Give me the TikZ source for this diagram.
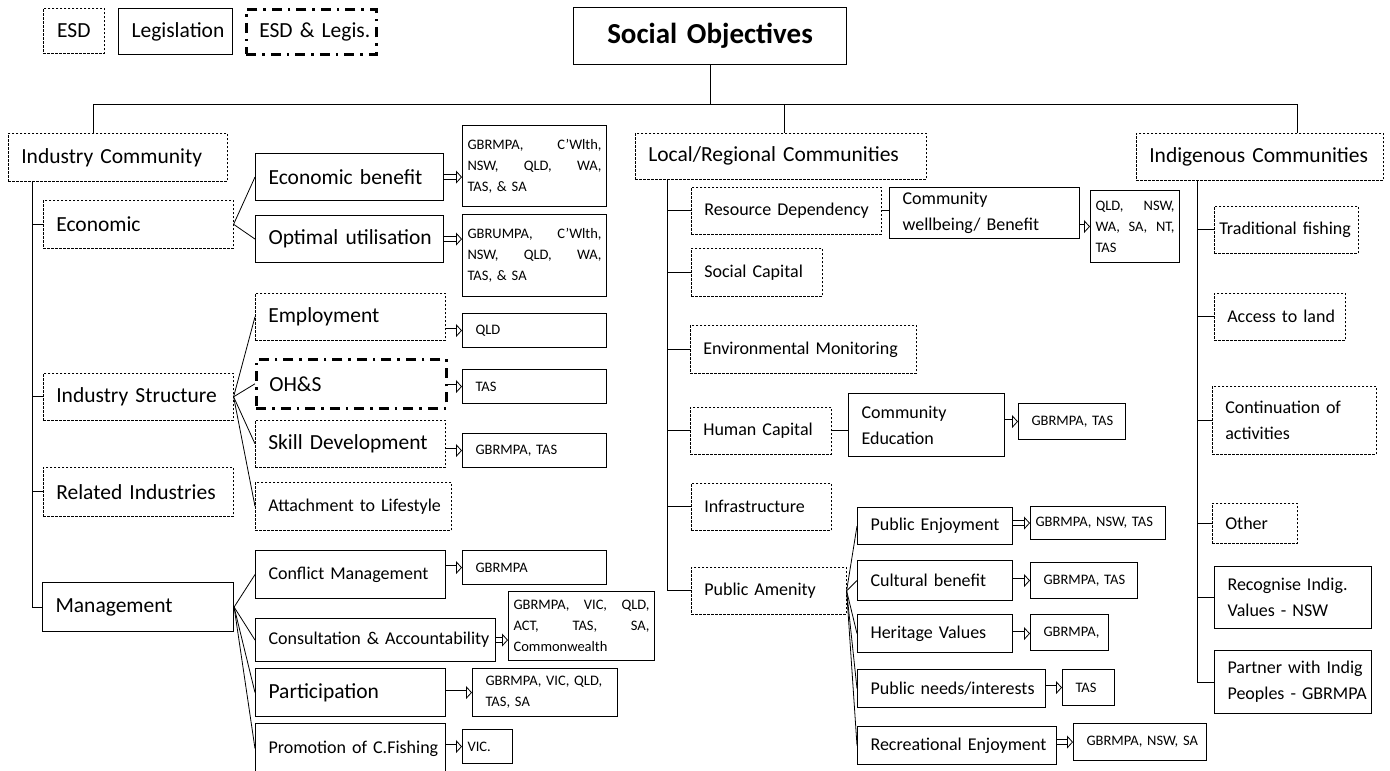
\documentclass[tikz,border=0pt]{standalone}
\usepackage{fontspec}
\setmainfont{Carlito}
\usetikzlibrary{arrows.meta}
\hyphenpenalty=10000
\exhyphenpenalty=10000
\tikzset{sz/.style 2 args = {inner xsep=13pt, text width={#1pt-26pt}, minimum height=#2pt}}
\tikzset{szt/.style 2 args = {inner xsep=5pt, text width={#1pt-10pt}, minimum height=#2pt}}
\begin{document}
\begin{tikzpicture}[x=1pt,y=-1pt]
		\tikzset{esd/.style = {draw, line width=0.6pt, dash pattern=on 2.5pt off 1.5pt, anchor=north west, align=left, inner ysep=0pt}}
		\tikzset{legis/.style = {draw, line width=1.1pt, anchor=north west, align=left, inner ysep=0pt}}
		\tikzset{both/.style = {draw, line width=2.6pt, dash pattern=on 10pt off 6pt on 2.5pt off 6pt, anchor=north west, align=left, inner ysep=0pt}}
		\tikzset{big/.style = {font=\fontsize{21.5}{26}\selectfont}}
		\tikzset{mid/.style = {font=\fontsize{18}{26}\selectfont}}
		\tikzset{small/.style = {font=\fontsize{14.5}{21}\selectfont}}
		\tikzset{edge/.style = {line width=0.8pt}}
		\tikzset{imp/.style = {double, double distance=4pt, line width=0.8pt, -{Triangle[open, length=6pt, width=13pt, line width=0.8pt]}}}
		
		\useasboundingbox (0,0) rectangle (1390,771);
		
		% legend and title
		\node[esd, big, sz={61}{45}, align=center]   (1) at (43,8)  {ESD};
		\node[legis, big, sz={114}{46}, align=center] (2) at (118,8) {Legislation};
		\node[both, big, sz={130}{45}, align=center]  (3) at (245,8) {ESD~\&~Legis.};
		\node[legis, sz={273}{57}, align=center, font=\fontsize{29}{34}\selectfont\bfseries] (4) at (573,7) {Social~Objectives};
		
		% industry community
		\node[esd, big, sz={219}{48}]   (10) at (8,133)   {Industry~Community};
		\node[esd, big, sz={190}{48}]   (11) at (43,200)  {Economic};
		\node[esd, big, sz={190}{47}]   (12) at (43,373)  {Industry~Structure};
		\node[esd, big, sz={190}{49}]   (13) at (43,467)  {Related~Industries};
		\node[legis, big, sz={191}{49}] (14) at (42,582)  {Management};
		
		\node[legis, big, sz={188}{47}] (15) at (255,153) {Economic~benefit};
		\node[legis, big, sz={188}{47}] (16) at (255,215) {Optimal~utilisation};
		\node[legis, small, szt={144}{81}] (17) at (462,125) {GBRMPA,\hfill C'Wlth,\\NSW,\hfill QLD,\hfill WA,\\TAS, \& SA};
		\node[legis, small, szt={144}{82}] (18) at (462,214) {GBRUMPA,\hfill C'Wlth,\\NSW,\hfill QLD,\hfill WA,\\TAS, \& SA};
		
		\node[esd, big, sz={190}{47}]   (19) at (255,293) {Employment};
		\node[both, big, sz={190}{49}]  (20) at (255,358) {OH\&S};
		\node[esd, big, sz={190}{47}]   (21) at (255,420) {Skill~Development};
		\node[esd, mid, sz={196}{48}]   (22) at (255,482) {Attachment~to~Lifestyle};
		\node[legis, small, sz={144}{34}] (23) at (462,313) {QLD};
		\node[legis, small, sz={144}{34}] (24) at (462,369) {TAS};
		\node[legis, small, sz={144}{34}] (25) at (462,433) {GBRMPA,~TAS};
		
		\node[legis, mid, sz={190}{48}] (26) at (255,550) {Conflict~Management};
		\node[legis, mid, sz={240}{43}] (27) at (255,618) {Consultation~\&~Accountability};
		\node[legis, big, sz={190}{48}] (28) at (255,668) {Participation};
		\node[legis, mid, sz={190}{50}] (29) at (255,723) {Promotion~of~C.Fishing};
		\node[legis, small, sz={144}{34}] (30) at (462,550) {GBRMPA};
		\node[legis, small, szt={146}{69}] (31) at (508,591) {GBRMPA,\hfill VIC,\hfill QLD,\\ACT,\hfill TAS,\hfill SA,\\Commonwealth};
		\node[legis, small, sz={145}{48}] (32) at (472,668) {GBRMPA, VIC, QLD,\\TAS, SA};
		\node[legis, small, szt={50}{34}] (33) at (462,729) {VIC.};
		
		% local / regional communities
		\node[esd, big, sz={291}{46}]   (40) at (635,133) {Local/Regional~Communities};
		\node[esd, mid, sz={190}{47}]   (41) at (691,187) {Resource~Dependency};
		\node[legis, mid, sz={190}{51}] (42) at (889,187) {Community\\wellbeing/ Benefit};
		\node[legis, small, szt={89}{72}] (43) at (1090,190) {QLD,\hfill NSW,\\WA,\hfill SA,\hfill NT,\\TAS};
		\node[esd, mid, sz={131}{48}]   (44) at (691,248) {Social~Capital};
		\node[esd, mid, sz={226}{48}]   (45) at (690,325) {Environmental~Monitoring};
		\node[esd, mid, sz={141}{47}]   (46) at (690,407) {Human~Capital};
		\node[legis, mid, sz={156}{63}] (47) at (848,393) {Community\\Education};
		\node[legis, small, sz={107}{36}] (48) at (1018,403) {GBRMPA,~TAS};
		\node[esd, mid, sz={140}{47}]   (49) at (691,483) {Infrastructure};
		\node[esd, mid, sz={155}{47}]   (50) at (691,567) {Public~Amenity};
		\node[legis, mid, sz={155}{37}] (51) at (857,507) {Public~Enjoyment};
		\node[legis, mid, sz={155}{40}] (52) at (857,560) {Cultural~benefit};
		\node[legis, mid, sz={155}{38}] (53) at (857,614) {Heritage~Values};
		\node[legis, mid, sz={188}{38}] (54) at (857,669) {Public~needs/interests};
		\node[legis, mid, sz={199}{38}] (55) at (857,726) {Recreational~Enjoyment};
		\node[legis, small, szt={135}{33}] (56) at (1030,506) {GBRMPA,~NSW,~TAS};
		\node[legis, small, sz={107}{36}] (57) at (1030,562) {GBRMPA,~TAS};
		\node[legis, small, sz={78}{36}]  (58) at (1030,614) {GBRMPA,};
		\node[legis, small, sz={52}{36}]  (59) at (1062,669) {TAS};
		\node[legis, small, sz={133}{37}] (60) at (1073,723) {GBRMPA,~NSW,~SA};
		
		% indigenous communities
		\node[esd, big, sz={247}{47}]   (70) at (1136,133) {Indigenous~Communities};
		\node[esd, mid, szt={144}{47}]  (71) at (1214,206) {Traditional~fishing};
		\node[esd, mid, sz={131}{47}]   (72) at (1214,293) {Access~to~land};
		\node[esd, mid, sz={164}{68}]   (73) at (1212,386) {Continuation~of\\activities};
		\node[esd, mid, sz={85}{40}]    (74) at (1212,503) {Other};
		\node[legis, mid, sz={157}{62}] (75) at (1214,566) {Recognise~Indig.\\Values~-~NSW};
		\node[legis, mid, sz={157}{63}] (76) at (1214,650) {Partner~with~Indig\\Peoples~-~GBRMPA};
		
		% top bar
		\coordinate (b1) at (93,104);
		\coordinate (b3) at (784,104);
		\coordinate (b4) at (1297,104);
		\draw[edge] (b1) -- (b4);
		\draw[edge] (4.south) -- (4.south |- b1);
		\draw[edge] (b1) -- (b1 |- 10.north);
		\draw[edge] (b3) -- (b3 |- 40.north);
		\draw[edge] (b4) -- (b4 |- 70.north);
		
		% spines
		\coordinate (s1) at (32,181);
		\coordinate (s2) at (667,179);
		\coordinate (s3) at (1197,180);
		\draw[edge] (s1) |- (14.west);
		\draw[edge] (11.west) -- (11.west -| s1);
		\draw[edge] (12.west) -- (12.west -| s1);
		\draw[edge] (13.west) -- (13.west -| s1);
		\draw[edge] (s2) |- (50.west);
		\draw[edge] (41.west) -- (41.west -| s2);
		\draw[edge] (44.west) -- (44.west -| s2);
		\draw[edge] (45.west) -- (45.west -| s2);
		\draw[edge] (46.west) -- (46.west -| s2);
		\draw[edge] (49.west) -- (49.west -| s2);
		\draw[edge] (s3) |- (76.west);
		\draw[edge] (71.west) -- (71.west -| s3);
		\draw[edge] (72.west) -- (72.west -| s3);
		\draw[edge] (73.west) -- (73.west -| s3);
		\draw[edge] (74.west) -- (74.west -| s3);
		\draw[edge] (75.west) -- (75.west -| s3);
		
		% fans
		\draw[edge] (11.east) -- (15.west);
		\draw[edge] (11.east) -- (16.west);
		\draw[edge] (12.east) -- (19.west);
		\draw[edge] (12.east) -- (20.west);
		\draw[edge] (12.east) -- (21.west);
		\draw[edge] (12.east) -- (22.west);
		\draw[edge] (14.east) -- (26.west);
		\draw[edge] (14.east) -- (27.west);
		\draw[edge] (14.east) -- (28.west);
		\draw[edge] (14.east) -- (29.west);
		\draw[edge] (41.east) -- (41.east -| 42.west);
		\draw[edge] (46.east) -- (46.east -| 47.west);
		\draw[edge] (50.east) -- (51.west);
		\draw[edge] (50.east) -- (52.west);
		\draw[edge] (50.east) -- (53.west);
		\draw[edge] (50.east) -- (54.west);
		\draw[edge] (50.east) -- (55.west);
		
		% arrows to the jurisdictions
		\draw[imp] (15.east) -- (15.east -| 17.west);
		\draw[imp] (16.east) -- (16.east -| 18.west);
		\draw[imp] (23.west -| 19.east) -- (23.west);
		\draw[imp] (24.west -| 20.east) -- (24.west);
		\draw[imp] (25.west -| 21.east) -- (25.west);
		\draw[imp] (30.west -| 26.east) -- (30.west);
		\draw[imp] (27.east) -- (27.east -| 31.west);
		\draw[imp] (28.east) -- (28.east -| 32.west);
		\draw[imp] (33.west -| 29.east) -- (33.west);
		\draw[imp] (43.west -| 42.east) -- (43.west);
		\draw[imp] (48.west -| 47.east) -- (48.west);
		\draw[imp] (56.west -| 51.east) -- (56.west);
		\draw[imp] (52.east) -- (52.east -| 57.west);
		\draw[imp] (53.east) -- (53.east -| 58.west);
		\draw[imp] (59.west -| 54.east) -- (59.west);
		\draw[imp] (60.west -| 55.east) -- (60.west);
\end{tikzpicture}
\end{document}
